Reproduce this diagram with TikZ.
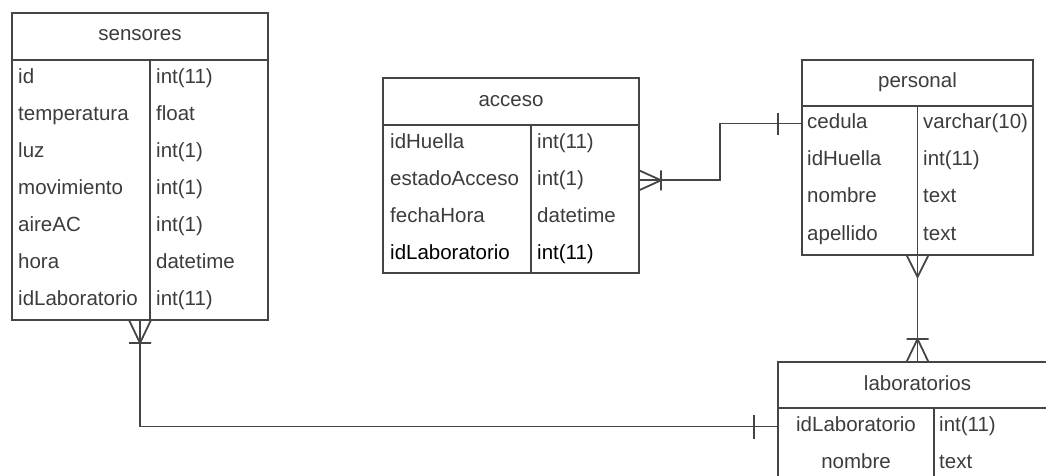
\documentclass[tikz,border=0pt]{standalone}
\usepackage{fontspec}
\setmainfont{Liberation Sans}
\definecolor{linea}{HTML}{454545}
\definecolor{letra}{HTML}{3C3C3C}

\begin{document}
\begin{tikzpicture}[x=1pt,y=-1pt]
	\tikzstyle{tabla}=[draw=linea,line width=1.8pt,inner sep=0pt,outer sep=0pt];
	\tikzstyle{titulo}=[text=letra,anchor=base,inner sep=0pt,font=\fontsize{20.5}{24}\selectfont];
	\tikzstyle{campo}=[text=letra,anchor=base west,inner sep=0pt,text height=14pt,text depth=4pt,font=\fontsize{20.5}{24}\selectfont];
	\tikzstyle{rel}=[draw=linea,line width=1.8pt];

	\useasboundingbox (0,0) rectangle (1046,475);

	% sensores
	\node[tabla,minimum width=256pt,minimum height=307pt] (sensores) at (140,166.5) {};
	\draw[rel] (12,60) -- (268,60) (150,60) -- (150,320);
	\node[titulo] (tSen) at (140,40.3) {sensores};
	\node[campo] (sId) at (18,83.3) {id};            \node[campo] (sIdT) at (156,83.3) {int(11)};
	\node[campo] (sTem) at (18,120.4) {temperatura}; \node[campo] (sTemT) at (156,120.4) {float};
	\node[campo] (sLuz) at (18,157.5) {luz};         \node[campo] (sLuzT) at (156,157.5) {int(1)};
	\node[campo] (sMov) at (18,194.6) {movimiento};  \node[campo] (sMovT) at (156,194.6) {int(1)};
	\node[campo] (sAir) at (18,231.7) {aireAC};      \node[campo] (sAirT) at (156,231.7) {int(1)};
	\node[campo] (sHor) at (18,268.8) {hora};        \node[campo] (sHorT) at (156,268.8) {datetime};
	\node[campo] (sLab) at (18,305.9) {idLaboratorio}; \node[campo] (sLabT) at (156,305.9) {int(11)};

	% acceso
	\node[tabla,minimum width=256pt,minimum height=195pt] (acceso) at (511,175.5) {};
	\draw[rel] (383,125) -- (639,125) (531,125) -- (531,273);
	\node[titulo] (tAcc) at (511,106.7) {acceso};
	\node[campo] (aHue) at (390,148.3) {idHuella};     \node[campo] (aHueT) at (537,148.3) {int(11)};
	\node[campo] (aEst) at (390,185.3) {estadoAcceso}; \node[campo] (aEstT) at (537,185.3) {int(1)};
	\node[campo] (aFec) at (390,222.3) {fechaHora};    \node[campo] (aFecT) at (537,222.3) {datetime};
	\node[campo,text=black] (aLab) at (390,259.3) {idLaboratorio}; \node[campo,text=black] (aLabT) at (537,259.3) {int(11)};

	% personal
	\node[tabla,minimum width=231pt,minimum height=195pt] (personal) at (917.5,157.5) {};
	\draw[rel] (802,106) -- (1033,106) (917.5,106) -- (917.5,255);
	\node[titulo] (tPer) at (917.5,87.3) {personal};
	\node[campo] (pCed) at (807,128.5) {cedula};    \node[campo] (pCedT) at (923,128.5) {varchar(10)};
	\node[campo] (pHue) at (807,165.7) {idHuella};  \node[campo] (pHueT) at (923,165.7) {int(11)};
	\node[campo] (pNom) at (807,202.9) {nombre};    \node[campo] (pNomT) at (923,202.9) {text};
	\node[campo] (pApe) at (807,240.1) {apellido};  \node[campo] (pApeT) at (923,240.1) {text};

	% laboratorios
	\node[tabla,minimum width=279pt,minimum height=120pt] (lab) at (917.5,422) {};
	\draw[rel] (778,408) -- (1057,408) (934,408) -- (934,482);
	\node[titulo] (tLab) at (917.5,390) {laboratorios};
	\node[campo,anchor=base] (lId) at (856,431.5) {idLaboratorio}; \node[campo] (lIdT) at (939,431.5) {int(11)};
	\node[campo,anchor=base] (lNom) at (856,468.5) {nombre};       \node[campo] (lNomT) at (939,468.5) {text};

	% sensores -- laboratorios
	\draw[rel] (sensores.south) |- (lab.west |- lId);
	\draw[rel,shift={(sensores.south)}] (-11,0) -- (0,23) -- (11,0) (-11,23) -- (11,23);
	\coordinate (unoL) at (lab.west |- lId);
	\draw[rel,shift={(unoL)}] (-24,-12) -- (-24,12);

	% acceso -- personal
	\coordinate (pieA) at (acceso.east |- aEst);
	\coordinate (unoP) at (personal.west |- pCed);
	\draw[rel] (pieA) -- ++(81,0) |- (unoP);
	\draw[rel,shift={(pieA)}] (0,-10) -- (22,0) -- (0,10) (22,-10) -- (22,10);
	\draw[rel,shift={(unoP)}] (-24,-11) -- (-24,11);

	% personal -- laboratorios
	\draw[rel] (personal.south) -- (lab.north);
	\draw[rel,shift={(personal.south)}] (-11,0) -- (0,22) -- (11,0);
	\draw[rel,shift={(lab.north)}] (-11,0) -- (0,-23) -- (11,0) (-11,-23) -- (11,-23);
\end{tikzpicture}
\end{document}
